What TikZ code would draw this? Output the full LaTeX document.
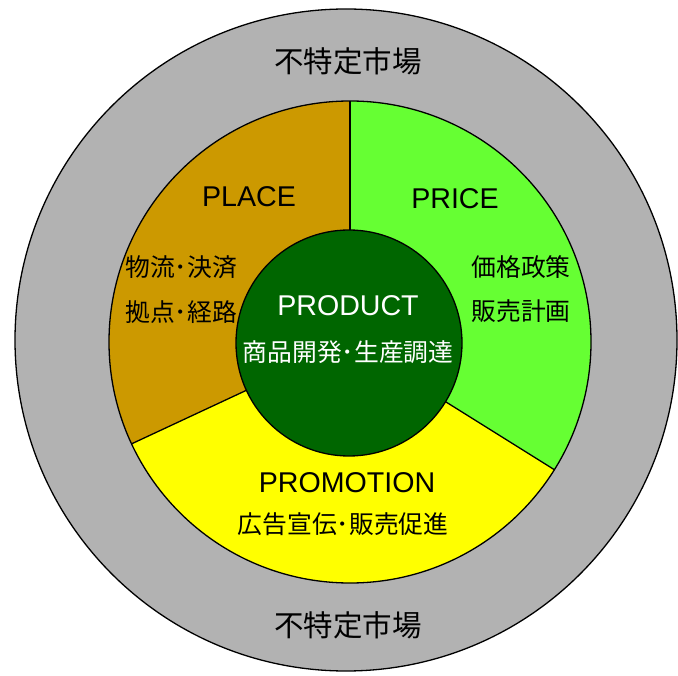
\documentclass[tikz,border=0pt]{standalone}
\usepackage{fontspec}
\setmainfont{Liberation Sans}
\newfontfamily\jp{Noto Sans CJK JP}
\definecolor{outergray}{HTML}{B2B2B2}
\definecolor{placecol}{HTML}{CC9900}
\definecolor{pricecol}{HTML}{66FF33}
\definecolor{promocol}{HTML}{FFFF00}
\definecolor{prodcol}{HTML}{006600}
\tikzset{
  edge/.style={draw=black, line width=1.3pt},
  lat/.style={font=\fontsize{28.6}{29}\selectfont, inner sep=0pt, anchor=center},
  jpt/.style={font=\jp\fontsize{24.8}{25}\selectfont, inner sep=0pt, anchor=center},
  mkt/.style={font=\jp\fontsize{29.5}{30}\selectfont, inner sep=0pt, anchor=center}
}
\begin{document}
\begin{tikzpicture}[x=1pt,y=-1pt]
\useasboundingbox (0,0) rectangle (678,676);
\coordinate (O) at (346,340);
\coordinate (C) at (350,342);
\coordinate (P) at (349,343);
% outer ring
\filldraw[fill=outergray, edge] (O) circle[radius=331pt];
% sectors
\fill[placecol] (C) -- ++(90:241pt) arc[start angle=90, end angle=205, radius=241pt] -- cycle;
\fill[promocol] (C) -- ++(205:241pt) arc[start angle=205, end angle=328, radius=241pt] -- cycle;
\fill[pricecol] (C) -- ++(-32:241pt) arc[start angle=-32, end angle=90, radius=241pt] -- cycle;
\draw[edge] (C) circle[radius=241pt];
\draw[edge] (C) -- ++(90:241pt);
\draw[edge] (C) -- ++(205:241pt);
\draw[edge] (C) -- ++(-32:241pt);
% product circle
\filldraw[fill=prodcol, edge] (P) circle[radius=113pt];
% texts
\node[mkt] (mtop) at (348,61) {不特定市場};
\node[mkt] (mbot) at (348,625) {不特定市場};
\node[lat] (place) at (249,197) {PLACE};
\node[lat] (price) at (455,199) {PRICE};
\node[jpt] (pl1) at (181,267) {物流･決済};
\node[jpt] (pl2) at (181,312) {拠点･経路};
\node[jpt] (pr1) at (521,267) {価格政策};
\node[jpt] (pr2) at (521,311) {販売計画};
\node[lat, text=white] (prod) at (348,306) {PRODUCT};
\node[jpt, text=white] (prod2) at (348,352) {商品開発･生産調達};
\node[lat] (promo) at (347,483) {PROMOTION};
\node[jpt] (promo2) at (343,524) {広告宣伝･販売促進};
\end{tikzpicture}
\end{document}
